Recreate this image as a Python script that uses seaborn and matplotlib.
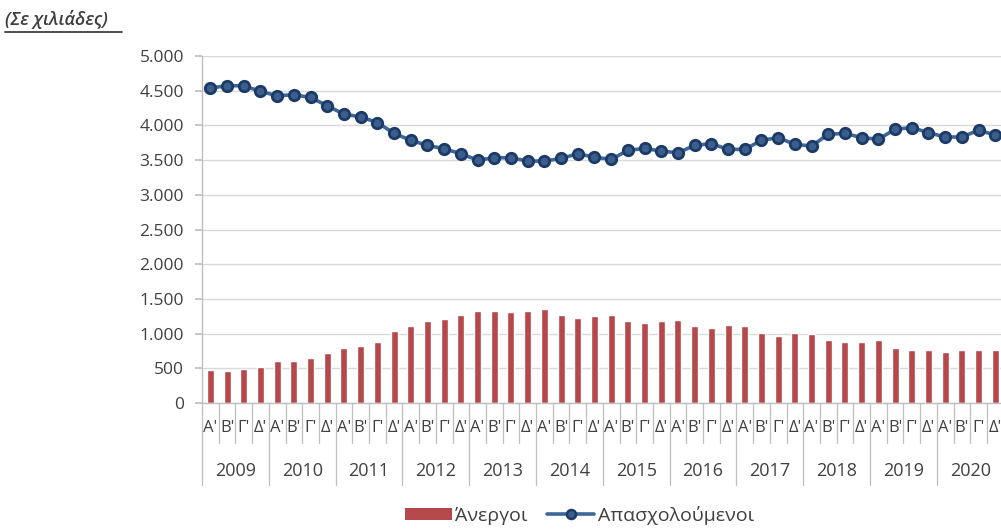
import numpy as np
import pandas as pd
import matplotlib.pyplot as plt
import seaborn as sns
from matplotlib.ticker import FuncFormatter, MultipleLocator
from matplotlib.transforms import blended_transform_factory
from matplotlib.lines import Line2D
from matplotlib.patches import Patch

# =====================================================
# DATA (χιλιάδες άτομα, ανά τρίμηνο 2009-2020)
# =====================================================

years = [2009, 2010, 2011, 2012, 2013, 2014, 2015, 2016, 2017, 2018, 2019, 2020]
quarters = ["Α'", "Β'", "Γ'", "Δ'"]

unemployed = [
    480, 462, 486, 524, 605, 605, 643, 724, 795, 819, 881, 1033,
    1105, 1176, 1210, 1267, 1324, 1324, 1310, 1324, 1348, 1267, 1230, 1248,
    1271, 1176, 1157, 1176, 1190, 1105, 1086, 1129, 1105, 1014, 967, 1014,
    990, 914, 881, 881, 914, 795, 771, 771, 738, 771, 757, 757,
]

employed = [
    4539, 4572, 4572, 4490, 4428, 4442, 4403, 4283, 4162, 4123, 4041, 3886,
    3785, 3712, 3664, 3592, 3500, 3534, 3534, 3486, 3486, 3524, 3592, 3543,
    3510, 3640, 3669, 3630, 3606, 3712, 3737, 3655, 3655, 3785, 3824, 3727,
    3703, 3872, 3886, 3824, 3800, 3944, 3969, 3896, 3833, 3833, 3930, 3862,
]

label_unemp = "Άνεργοι"
label_emp = "Απασχολούμενοι"

df = pd.DataFrame({
    "period": [f"{y}-{q}" for y in years for q in range(1, 5)],
    "pos": np.arange(len(unemployed)),
    "unemployed": unemployed,
    "employed": employed,
})

# =====================================================
# STYLE
# =====================================================

sns.set_theme(style="white")
plt.rcParams['font.family'] = ['Open Sans', 'DejaVu Sans']

bar_color = "#B5484B"
line_color = "#3D6699"
mk_face = "#3B5E8C"
mk_edge = "#1C3A66"
text_color = "#404040"
grid_color = "#D9D9D9"
axis_color = "#BFBFBF"

fig = plt.figure(figsize=(10.01, 5.30), dpi=100)
ax = fig.add_axes([0.2018, 0.2396, 0.8008, 0.6547])

# =====================================================
# PLOT
# =====================================================

sns.barplot(data=df, x="period", y="unemployed", color=bar_color,
            saturation=1, width=0.42, ax=ax, zorder=2)

sns.lineplot(data=df, x="pos", y="employed", color=line_color, lw=2.6,
             marker="o", markersize=7.5, markerfacecolor=mk_face,
             markeredgecolor=mk_edge, markeredgewidth=2, ax=ax, zorder=3)

ax.set_xlim(-0.5, len(unemployed) - 0.5)
ax.set_ylim(0, 5000)
ax.yaxis.set_major_locator(MultipleLocator(500))
ax.yaxis.set_major_formatter(FuncFormatter(lambda v, p: f"{int(v):,}".replace(",", ".")))
ax.grid(axis="y", color=grid_color, lw=1, zorder=0)
ax.set_axisbelow(True)
ax.set_xlabel("")
ax.set_ylabel("")

for s in ["top", "right"]:
    ax.spines[s].set_visible(False)
for s in ["left", "bottom"]:
    ax.spines[s].set_color(axis_color)
    ax.spines[s].set_linewidth(1)

ax.tick_params(axis="y", length=5, color=axis_color, labelsize=12.5,
               labelcolor=text_color, pad=8, left=True)

# quarter labels
ax.set_xticks(df["pos"])
ax.set_xticklabels(quarters * len(years))
ax.tick_params(axis="x", length=0, labelsize=12, labelcolor=text_color, pad=12)

# year labels and separators
trans = blended_transform_factory(ax.transData, ax.transAxes)
for i, y in enumerate(years):
    ax.text(4 * i + 1.5, -0.195, str(y), transform=trans, ha="center",
            va="center", fontsize=13, color=text_color)

for k in range(len(unemployed) + 1):
    bottom = -0.235 if k % 4 == 0 else -0.115
    ax.plot([k - 0.5, k - 0.5], [0, bottom], transform=trans, color=axis_color,
            lw=0.9, clip_on=False)

# =====================================================
# TITLE / LEGEND
# =====================================================

fig.text(0.005, 0.964, "(Σε χιλιάδες)", ha="left", va="center", fontsize=13,
         style="italic", fontweight="semibold", color=text_color)
fig.add_artist(Line2D([0.005, 0.122], [0.940, 0.940], transform=fig.transFigure,
                      color=text_color, lw=1.3))

handles = [
    Patch(facecolor=bar_color, edgecolor="none"),
    Line2D([0], [0], color=line_color, lw=2.6, marker="o", markersize=6.5,
           markerfacecolor=mk_face, markeredgecolor=mk_edge, markeredgewidth=1.8),
]
fig.legend(handles, [label_unemp, label_emp], loc="center",
           bbox_to_anchor=(0.579, 0.028), ncol=2, frameon=False, fontsize=14,
           handlelength=2.4, handleheight=0.55, handletextpad=0.2,
           columnspacing=1.0, labelcolor=text_color)

if ax.get_legend() is not None:
    ax.get_legend().remove()

fig.savefig("out.png", dpi=100)
